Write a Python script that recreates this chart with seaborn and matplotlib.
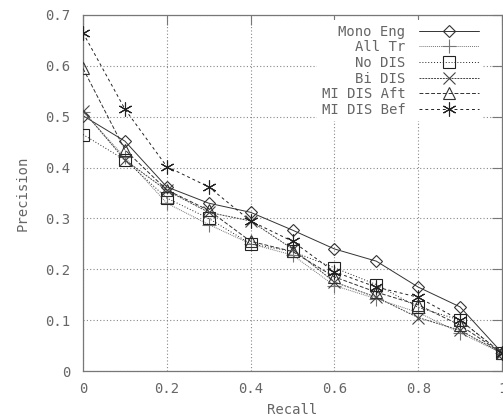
import numpy as np
import pandas as pd
import matplotlib
matplotlib.use("Agg")
import matplotlib.pyplot as plt
import seaborn as sns

recall = [0.0, 0.1, 0.2, 0.3, 0.4, 0.5, 0.6, 0.7, 0.8, 0.9, 1.0]
mono_eng = [0.502, 0.452, 0.362, 0.330, 0.312, 0.277, 0.240, 0.216, 0.165, 0.126, 0.036]
all_tr = [0.510, 0.420, 0.330, 0.288, 0.250, 0.228, 0.168, 0.142, 0.115, 0.075, 0.035]
no_dis = [0.465, 0.415, 0.340, 0.300, 0.250, 0.235, 0.203, 0.170, 0.125, 0.100, 0.035]
bi_dis = [0.512, 0.415, 0.355, 0.312, 0.295, 0.240, 0.175, 0.145, 0.105, 0.080, 0.035]
mi_dis_aft = [0.595, 0.435, 0.356, 0.316, 0.255, 0.235, 0.185, 0.155, 0.130, 0.090, 0.035]
mi_dis_bef = [0.665, 0.515, 0.402, 0.362, 0.295, 0.255, 0.195, 0.165, 0.145, 0.100, 0.035]

labels = ["Mono Eng", "All Tr", "No DIS", "Bi DIS", "MI DIS Aft", "MI DIS Bef"]
series = [mono_eng, all_tr, no_dis, bi_dis, mi_dis_aft, mi_dis_bef]

sns.set_style("white")
plt.rcParams["font.family"] = ["DejaVu Sans Mono", "DejaVu Sans"]

fig = plt.figure(figsize=(5.03, 4.19), dpi=100)
ax = fig.add_axes([83 / 503, 48 / 419, 419 / 503, 356 / 419])

styles = [
    dict(marker="D", linestyle="-", color="#333333", ms=6.5),
    dict(marker="+", linestyle=(0, (1, 1)), color="#777777", ms=10),
    dict(marker="s", linestyle=(0, (1, 2)), color="#222222", ms=8),
    dict(marker="x", linestyle=(0, (2, 1)), color="#444444", ms=8),
    dict(marker="^", linestyle=(0, (4, 2)), color="#333333", ms=8.5),
    dict(marker=(6, 2, 0), linestyle=(0, (3, 3)), color="#222222", ms=10),
]

for lab, vals, st in zip(labels, series, styles):
    df = pd.DataFrame({"Recall": recall, "Precision": vals})
    sns.lineplot(data=df, x="Recall", y="Precision", ax=ax, label=lab,
                 marker=st["marker"], linestyle=st["linestyle"], color=st["color"],
                 linewidth=0.7, markersize=st["ms"], markeredgecolor=st["color"],
                 markerfacecolor="none", markeredgewidth=0.8, zorder=3)

ax.set_xlim(0, 1)
ax.set_ylim(0, 0.7)
ax.set_xticks(np.round(np.arange(0, 1.01, 0.2), 1))
ax.set_yticks(np.round(np.arange(0, 0.71, 0.1), 1))
ax.xaxis.set_major_formatter(matplotlib.ticker.FormatStrFormatter("%g"))
ax.yaxis.set_major_formatter(matplotlib.ticker.FormatStrFormatter("%g"))

textc = "#666666"
ax.tick_params(direction="in", length=7, width=0.8, colors="#777777",
               labelcolor=textc, labelsize=10, top=True, right=True)
ax.tick_params(axis="y", pad=9)
ax.tick_params(axis="x", pad=8)
for sp in ax.spines.values():
    sp.set_color("#777777")
    sp.set_linewidth(0.9)

ax.grid(True, color="#888888", linestyle=(0, (1, 2)), linewidth=0.8, zorder=0)
ax.set_axisbelow(True)

ax.set_xlabel("Recall", fontsize=10, color=textc)
ax.set_ylabel("Precision", fontsize=10, color=textc)
ax.xaxis.set_label_coords(0.5, -0.09)
ax.yaxis.set_label_coords(-0.128, 0.5)

leg = ax.legend(loc="upper right", bbox_to_anchor=(0.955, 0.985), markerfirst=False,
                frameon=True, facecolor="white", edgecolor="none", framealpha=1,
                fontsize=10, handlelength=4.3, handletextpad=1.0, labelspacing=0.12,
                borderpad=0.3, borderaxespad=0)
for t in leg.get_texts():
    t.set_color(textc)
leg.set_zorder(2)

fig.savefig("out.png", dpi=100)
